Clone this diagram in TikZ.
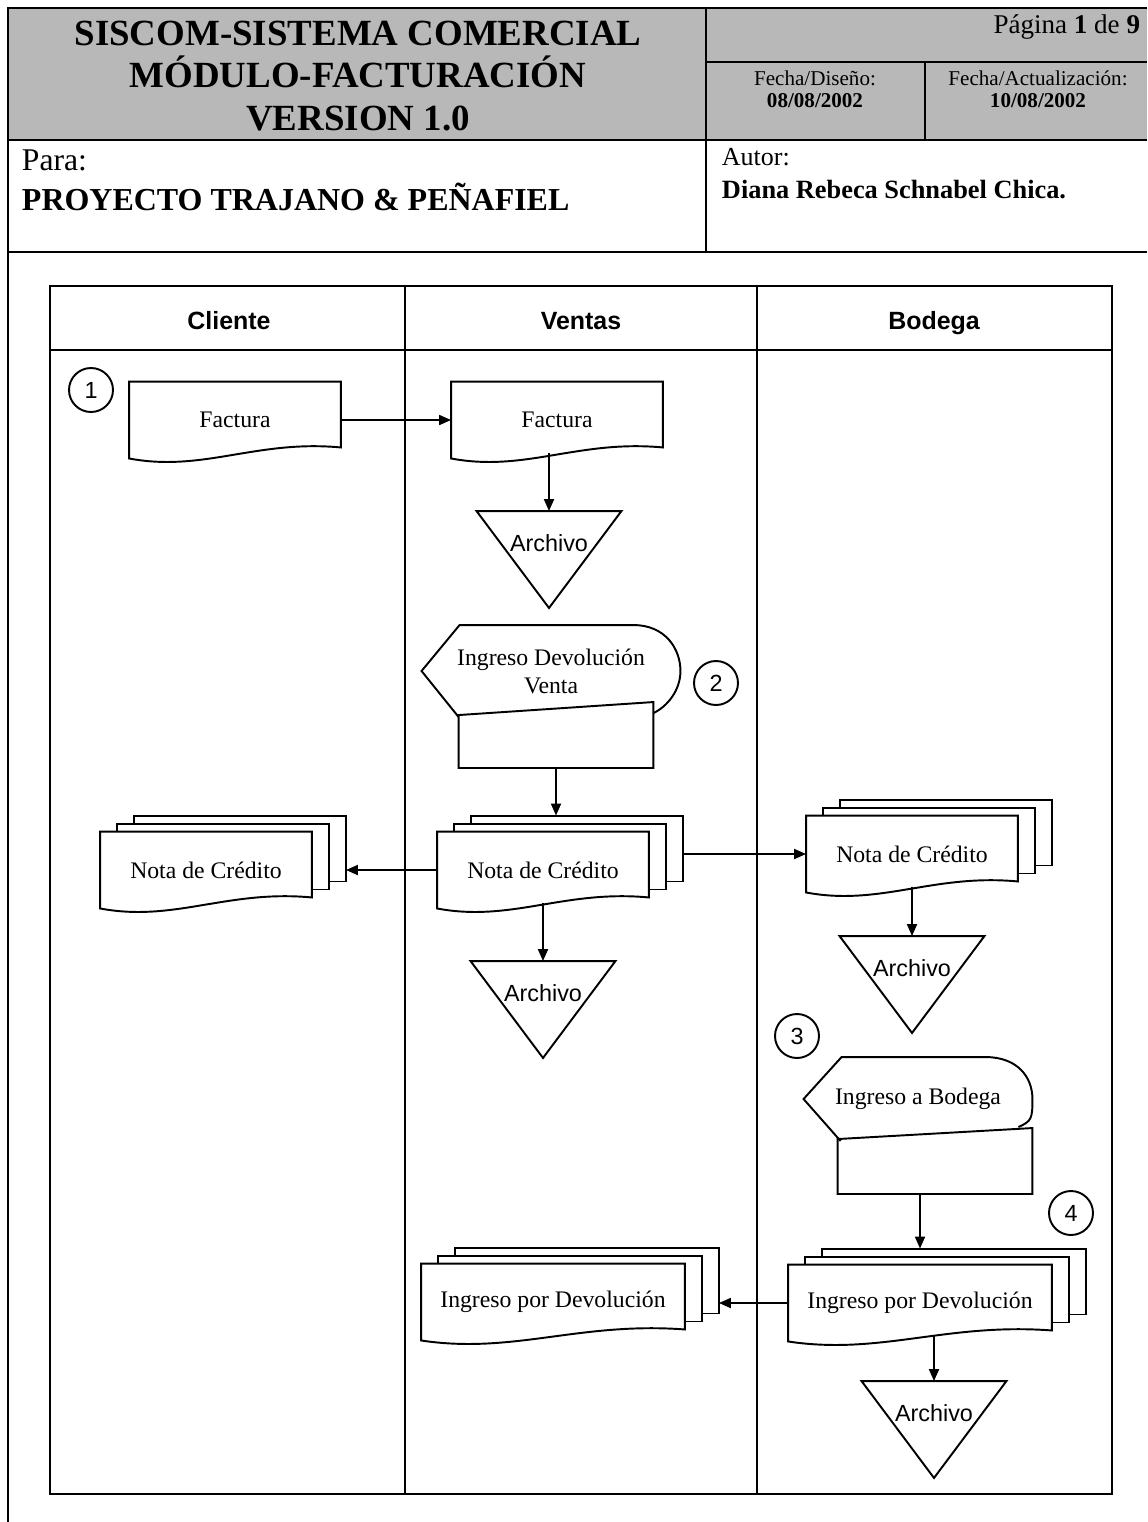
\documentclass[tikz,border=0pt]{standalone}
\usepackage{fontspec}
\setmainfont{Liberation Serif}
\newfontfamily\arialfont{Liberation Sans}
\usetikzlibrary{arrows.meta,calc}

\newcommand{\doctext}{\fontsize{13.5}{16}\selectfont}
\newcommand{\archtext}{\arialfont\fontsize{13.3}{16}\selectfont}
\newcommand{\lanetext}{\arialfont\bfseries\fontsize{14.2}{17}\selectfont}

% document outline with wavy bottom
\newcommand{\docline}[1]{%
  \draw (#1.north west) -- (#1.north east) -- ($(#1.south east)+(0,-11)$)
    .. controls ($(#1.south west)!0.6!(#1.south east)+(0,-19)$)
    and ($(#1.south west)!0.35!(#1.south east)+(0,14)$) .. (#1.south west) -- cycle;}
% three stacked documents
\newcommand{\stackline}[1]{%
  \draw ($(#1.north west)+(17,0)$) -- ++(0,-8) -- ($(#1.north east)+(17,-8)$)
    -- ($(#1.south east)+(17,-19)$) -- ($(#1.south east)+(0,-19)$);
  \draw ($(#1.north west)+(34,-8)$) -- ++(0,-8) -- ($(#1.north east)+(34,-16)$)
    -- ($(#1.south east)+(34,-27)$) -- ($(#1.south east)+(17,-27)$);
  \coordinate (#1-b) at ($(#1.east)+(34,0)$);
  \coordinate (#1-t) at ($(#1.north)+(0,-16)$);
  \docline{#1}}
% display outline, open at the bottom
\newcommand{\displine}[2]{%
  \draw ($(#1.south west)+(37,0)$) -- (#1.west) -- ($(#1.north west)+(38,0)$)
    -- ($(#1.north east)+(-47,0)$)
    .. controls ($(#1.north east)+(-15,0)$) and ($(#1.east)+(0,-22)$) .. (#1.east)
    .. controls ($(#1.east)+(0,20)$) and ($(#2)+(13,-6)$) .. (#2);}
% manual input box
\newcommand{\inputline}[2]{%
  \draw ($(#1.north west)+(0,#2)$) -- (#1.north east) -- (#1.south east)
    -- (#1.south west) -- cycle;}
% archive triangle
\newcommand{\archline}[1]{%
  \draw (#1.north west) -- (#1.north east) -- ($(#1.south)+(0,33)$) -- cycle;}

\begin{document}
\begin{tikzpicture}[x=0.02cm, y=-0.02cm, line width=1.1pt,
  docbox/.style={minimum width=4.2cm, minimum height=1.5cm, inner sep=0pt, font=\doctext},
  widedoc/.style={docbox, minimum width=5.24cm},
  dispbox/.style={inner sep=0pt, font=\doctext, align=center},
  inbox/.style={minimum width=3.86cm, minimum height=1.28cm, inner sep=0pt},
  archbox/.style={minimum width=2.86cm, minimum height=1.24cm, inner sep=0pt, font=\archtext},
  numcirc/.style={circle, draw, minimum size=0.88cm, inner sep=0pt, font=\archtext},
  lane/.style={anchor=base, inner sep=0pt, font=\lanetext},
  flow/.style={-{Triangle[length=2.4mm,width=2mm]}},
  fromdoc/.style={flow, shorten <=-0.1cm}]
\useasboundingbox (0,0) rectangle (1147,1522);

% header
\fill[black!28] (8,8) rectangle (1147,140);
\draw[line width=1.3pt] (1147,8) -- (8,8) -- (8,1522);
\draw[line width=1.6pt] (8,140) -- (1147,140);
\draw (8,252) -- (1147,252);
\draw (706,8) -- (706,252);
\draw (706,62) -- (1147,62);
\draw (925,62) -- (925,140);
\node[align=center, font=\fontsize{21}{24.4}\selectfont\bfseries] (titulo) at (358,76)
  {SISCOM-SISTEMA COMERCIAL\\MÓDULO-FACTURACIÓN\\VERSION 1.0};
\node[anchor=east, inner sep=0pt, font=\fontsize{15.4}{18}\selectfont] (pagina) at (1141,27)
  {Página \textbf{1} de \textbf{9}};
\node[align=center, font=\fontsize{12}{12.5}\selectfont] (fdis) at (815,89)
  {Fecha/Diseño:\\\textbf{08/08/2002}};
\node[align=center, font=\fontsize{12}{12.5}\selectfont] (fact) at (1038,89)
  {Fecha/Actualización:\\\textbf{10/08/2002}};
\node[anchor=west, inner sep=0pt, font=\fontsize{18}{20}\selectfont] (para) at (21,160) {Para:};
\node[anchor=west, inner sep=0pt, font=\fontsize{18.2}{20}\selectfont\bfseries] (proy) at (21,197)
  {PROYECTO TRAJANO \& PEÑAFIEL};
\node[anchor=west, inner sep=0pt, font=\fontsize{14.8}{17}\selectfont] (autor) at (721,157) {Autor:};
\node[anchor=west, inner sep=0pt, font=\fontsize{15}{17}\selectfont\bfseries] (nombre) at (721,190)
  {Diana Rebeca Schnabel Chica.};

% lanes
\draw (50,286) rectangle (1112,1494);
\draw (50,350) -- (1112,350);
\draw (405,286) -- (405,1494);
\draw (757,286) -- (757,1494);
\node[lane] (cliente) at (229,329) {Cliente};
\node[lane] (ventas) at (581,329) {Ventas};
\node[lane] (bodega) at (934,329) {Bodega};

% factura
\node[numcirc] (n1) at (91,390) {1};
\node[docbox] (cfac) at (235,420) {Factura}; \docline{cfac}
\node[docbox] (vfac) at (557,420) {Factura}; \docline{vfac}
\node[archbox] (arch1) at (549,543) {Archivo}; \archline{arch1}

% devolucion en ventas
\node[dispbox, minimum width=5.14cm, minimum height=1.8cm] (vdisp) at (551,671)
  {Ingreso Devolución\\Venta};
\node[inbox] (vrect) at (556,735) {}; \inputline{vrect}{13}
\coordinate (vend) at ($(vrect.north east)+(0,11)$);
\displine{vdisp}{vend}
\node[numcirc] (n2) at (716,683) {2};

% notas de credito
\node[docbox] (cnota) at (206,870) {Nota de Crédito}; \stackline{cnota}
\node[docbox] (vnota) at (543,870) {Nota de Crédito}; \stackline{vnota}
\node[docbox] (bnota) at (912,854) {Nota de Crédito}; \stackline{bnota}
\node[archbox] (arch2) at (543,993) {Archivo}; \archline{arch2}
\node[archbox] (arch3) at (912,968) {Archivo}; \archline{arch3}

% ingreso a bodega
\node[numcirc] (n3) at (797,1036) {3};
\node[dispbox, minimum width=4.54cm, minimum height=1.64cm] (bdisp) at (918,1099) {Ingreso a Bodega};
\node[inbox] (brect) at (935,1161) {}; \inputline{brect}{11}
\coordinate (bend) at ($(brect.north east)+(-14,-1)$);
\displine{bdisp}{bend}
\node[numcirc] (n4) at (1071,1213) {4};
\node[widedoc] (vingr) at (553,1302) {Ingreso por Devolución}; \stackline{vingr}
\node[widedoc] (bingr) at (920,1303) {Ingreso por Devolución}; \stackline{bingr}
\node[archbox] (arch4) at (934,1413) {Archivo}; \archline{arch4}

% flujo
\draw[flow] (cfac.east) -- (vfac.west);
\draw[fromdoc] (arch1.north |- vfac.south) -- (arch1.north);
\draw[flow] (vrect.south) -- (vrect.south |- vnota-t);
\draw[flow] (vnota.west) -- (vnota.west -| cnota-b);
\draw[flow] (bnota.west -| vnota-b) -- (bnota.west);
\draw[fromdoc] (vnota.south) -- (arch2.north);
\draw[fromdoc] (bnota.south) -- (arch3.north);
\draw[flow] (brect.south -| bingr-t) -- (bingr-t);
\draw[flow] (bingr.west) -- (bingr.west -| vingr-b);
\draw[fromdoc] (arch4.north |- bingr.south) -- (arch4.north);
\end{tikzpicture}
\end{document}
